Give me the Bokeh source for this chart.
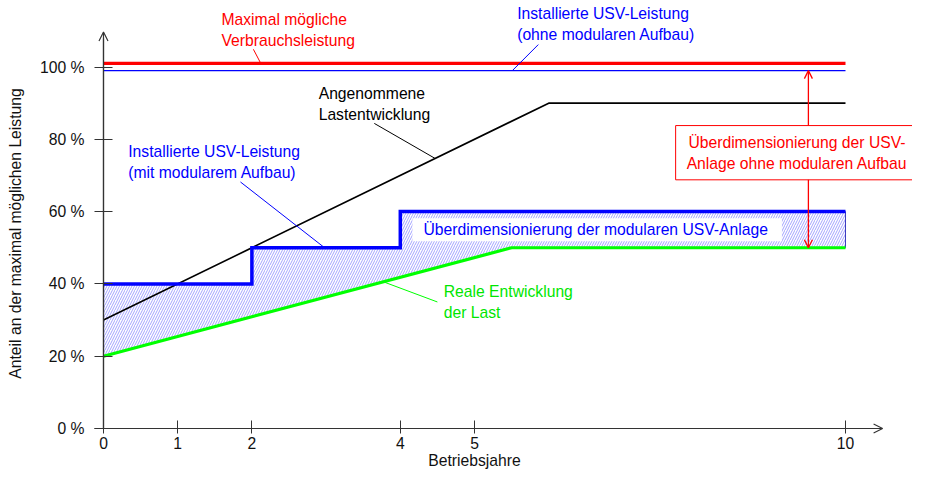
from bokeh.plotting import figure
from bokeh.models import Range1d, FixedTicker, Label, Arrow, OpenHead
from bokeh.embed import file_html
from bokeh.resources import INLINE

# ---- data ----
years_max = [0, 10]
max_load = [101, 101]            # Maximal mögliche Verbrauchsleistung
usv_fixed = [99, 99]             # Installierte USV-Leistung (ohne modularen Aufbau)
years_assumed = [0, 6, 10]
assumed_load = [30, 90, 90]      # Angenommene Lastentwicklung
years_real = [0, 5.5, 10]
real_load = [20, 50, 50]         # Reale Entwicklung der Last
years_mod = [0, 2, 4, 10]
usv_mod = [40, 50, 60, 60]       # Installierte USV-Leistung (mit modularem Aufbau)

x_ticks = [0, 1, 2, 4, 5, 10]
y_ticks = [0, 20, 40, 60, 80, 100]
y_tick_labels = ["0 %", "20 %", "40 %", "60 %", "80 %", "100 %"]

FONT = "Liberation Sans"
FS = "15.7px"
RED = "#ff0000"
BLUE = "#0000ff"
GREEN = "#00ff00"
GREEN_TXT = "#00e600"
AX = "#333333"
TXT = "#111111"

X_AXIS_END = 10.5
Y_AXIS_END = 109.7

p = figure(width=912, height=472, x_range=Range1d(-1.388, 10.903), y_range=Range1d(-12.17, 118.4),
           output_backend="svg", toolbar_location=None,
           min_border_left=0, min_border_right=0, min_border_top=0, min_border_bottom=0)
p.outline_line_color = None
p.grid.visible = False
p.background_fill_color = "white"
p.border_fill_color = "white"

# axes (crossing at the origin)
xa = p.xaxis[0]
xa.fixed_location = 0
xa.bounds = (-0.12, 10.12)
xa.ticker = FixedTicker(ticks=x_ticks)
xa.major_tick_in = 8
xa.major_tick_out = 5
xa.minor_tick_line_color = None
xa.axis_line_color = AX
xa.major_tick_line_color = AX
xa.axis_line_width = 1.2
xa.major_label_standoff = 3
xa.major_label_text_font = FONT
xa.major_label_text_font_size = FS
xa.major_label_text_color = TXT
xa.axis_label = "Betriebsjahre"
xa.axis_label_text_font = FONT
xa.axis_label_text_font_size = FS
xa.axis_label_text_font_style = "normal"
xa.axis_label_text_color = TXT
xa.axis_label_standoff = 0

ya = p.yaxis[0]
ya.fixed_location = 0
ya.bounds = (0, 108)
ya.ticker = FixedTicker(ticks=y_ticks)
ya.major_label_overrides = {t: l for t, l in zip(y_ticks, y_tick_labels)}
ya.major_tick_in = 9
ya.major_tick_out = 9
ya.minor_tick_line_color = None
ya.axis_line_color = AX
ya.major_tick_line_color = AX
ya.axis_line_width = 1.2
ya.major_label_standoff = 10
ya.major_label_text_font = FONT
ya.major_label_text_font_size = FS
ya.major_label_text_color = TXT
ya.axis_label = "Anteil an der maximal möglichen Leistung"
ya.axis_label_text_font = FONT
ya.axis_label_text_font_size = FS
ya.axis_label_text_font_style = "normal"
ya.axis_label_text_color = TXT
ya.axis_label_standoff = 13

# axis arrows
p.add_layout(Arrow(end=OpenHead(size=9, line_color=AX, line_width=1.2), x_start=0, y_start=0,
                   x_end=0, y_end=Y_AXIS_END, line_color=AX, line_width=1.2))
p.add_layout(Arrow(end=OpenHead(size=9, line_color=AX, line_width=1.2), x_start=0, y_start=0,
                   x_end=X_AXIS_END, y_end=0, line_color=AX, line_width=1.2))

# hatched over-dimensioning area between modular USV and real load
step_x, step_y = [], []
for i in range(len(years_mod)):
    if i > 0:
        step_x.append(years_mod[i]); step_y.append(usv_mod[i - 1])
    step_x.append(years_mod[i]); step_y.append(usv_mod[i])
patch_x = step_x + years_real[::-1]
patch_y = step_y + real_load[::-1]
p.patch(patch_x, patch_y, fill_color="white", fill_alpha=0.0,
        hatch_pattern="/", hatch_color="#6666ff", hatch_alpha=0.6, hatch_scale=5, hatch_weight=1,
        line_color="#3a3ac0", line_width=1)

# lines
p.line(years_assumed, assumed_load, line_color="black", line_width=1.6)
p.line(years_real, real_load, line_color=GREEN, line_width=3.2)
p.step(years_mod, usv_mod, mode="after", line_color=BLUE, line_width=3.5, line_join="miter")
p.line(years_max, max_load, line_color=RED, line_width=3.2)
p.line(years_max, usv_fixed, line_color=BLUE, line_width=1.3)

# leader lines
p.segment(x0=[2.02], y0=[104.9], x1=[2.12], y1=[101], line_color=RED, line_width=1)
p.segment(x0=[5.86], y0=[106.2], x1=[5.51], y1=[99], line_color=BLUE, line_width=1)
p.segment(x0=[3.65], y0=[84.4], x1=[4.47], y1=[74.7], line_color="black", line_width=1)
p.segment(x0=[1.846], y0=[68.2], x1=[2.98], y1=[50], line_color=BLUE, line_width=1)
p.segment(x0=[3.77], y0=[40.6], x1=[4.5], y1=[35.0], line_color=GREEN, line_width=1)

def lab(x, y, text, color, align="left", **kw):
    l = Label(x=x, y=y, text=text, text_color=color, text_font=FONT, text_font_size=FS,
              text_align=align, text_baseline="middle", text_line_height=1.25, **kw)
    p.add_layout(l)
    return l

lab(1.59, 110.3, "Maximal mögliche\nVerbrauchsleistung", RED)
lab(5.575, 111.9, "Installierte USV-Leistung\n(ohne modularen Aufbau)", BLUE)
lab(2.90, 89.8, "Angenommene\nLastentwicklung", "black")
lab(0.333, 73.7, "Installierte USV-Leistung\n(mit modularem Aufbau)", BLUE)
lab(4.586, 34.9, "Reale Entwicklung\nder Last", GREEN_TXT)
lab(4.164, 55.0, "Überdimensionierung der modularen USV-Anlage", BLUE,
    background_fill_color="white", padding=dict(left=11, right=14, top=3, bottom=3))

# red double arrow: over-dimensioning without modular design
p.add_layout(Arrow(start=OpenHead(size=8, line_color=RED, line_width=1.3),
                   end=OpenHead(size=8, line_color=RED, line_width=1.3),
                   x_start=9.5, y_start=usv_fixed[-1], x_end=9.5, y_end=real_load[-1],
                   line_color=RED, line_width=1.3))
lab(9.474, 76.3, "Überdimensionierung der USV-\nAnlage ohne modularen Aufbau", RED, align="center",
    background_fill_color="white", border_line_color=RED, border_line_width=1,
    padding=dict(left=11, right=30, top=8, bottom=8))

open("out.html", "w").write(file_html(p, INLINE))
